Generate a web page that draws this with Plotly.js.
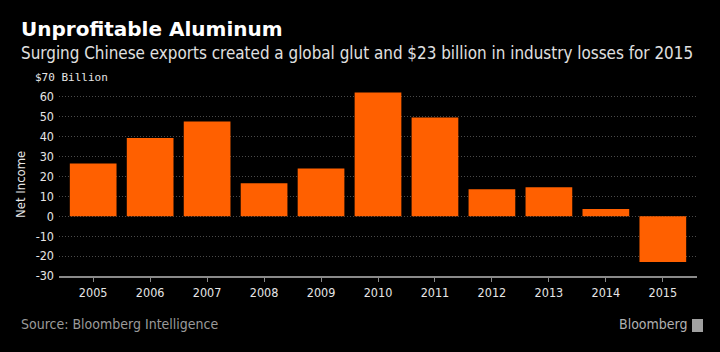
<!DOCTYPE html>
<html>
<head>
<meta charset="utf-8">
<script src="https://cdn.plot.ly/plotly-3.0.1.min.js"></script>
<style>html,body{margin:0;padding:0;background:#000;}#chart{width:720px;height:352px;}</style>
</head>
<body>
<div id="chart"></div>
<script>
const years = ["2005","2006","2007","2008","2009","2010","2011","2012","2013","2014","2015"];
const netIncome = [26.5, 39.3, 47.7, 16.6, 24.0, 62.2, 49.6, 13.6, 14.6, 3.7, -23.0];
const yTicks = [-30,-20,-10,0,10,20,30,40,50,60,70];
const yTickText = ["-30","-20","-10","0","10","20","30","40","50","60",""];

const trace = {
  type: "bar",
  x: years,
  y: netIncome,
  marker: {color: "#ff6000", line: {color: "#ff6000", width: 0}},
  hoverinfo: "skip"
};

const layout = {
  width: 720, height: 352,
  paper_bgcolor: "#000", plot_bgcolor: "#000",
  margin: {l: 58.5, r: 23, t: 77, b: 76},
  bargap: 0.18,
  showlegend: false,
  font: {family: "DejaVu Sans Condensed, DejaVu Sans, sans-serif", color: "#e6e6e6", size: 12},
  xaxis: {
    type: "category", range: [-0.6, 10.6], fixedrange: true,
    showline: true, linecolor: "#8a8a8a", linewidth: 1.5,
    ticks: "outside", ticklen: 4, tickcolor: "#8a8a8a",
    showgrid: false, zeroline: false,
    tickfont: {size: 12.5, color: "#e6e6e6"}
  },
  yaxis: {
    range: [-30, 70], fixedrange: true,
    tickvals: yTicks, ticktext: yTickText,
    showgrid: true, gridcolor: "#4a4a4a", griddash: "1px,2px", gridwidth: 1,
    zeroline: false, showline: false, ticks: "",
    ticklabelstandoff: 4,
    tickfont: {size: 12.5, color: "#e6e6e6"}
  },
  annotations: [
    {text: "<b>Unprofitable Aluminum</b>", xref: "paper", yref: "paper", x: 0, xshift: -58.5 + 20 - 2, y: 1, yshift: 34,
     xanchor: "left", yanchor: "bottom", showarrow: false,
     font: {family: "DejaVu Sans", size: 20, color: "#ffffff"}},
    {text: "Surging Chinese exports created a global glut and $23 billion in industry losses for 2015", xref: "paper", yref: "paper",
     x: 0, xshift: -58.5 + 20 - 2, y: 1, yshift: 11.5,
     xanchor: "left", yanchor: "bottom", showarrow: false,
     font: {family: "DejaVu Sans Condensed", size: 16.9, color: "#e0e0e0"}},
    {text: "$70 Billion", xref: "paper", yref: "y", x: 0, xshift: -58.5 + 32, y: 70,
     xanchor: "left", yanchor: "middle", showarrow: false, bgcolor: "#000", borderpad: 1,
     font: {family: "DejaVu Sans Mono", size: 11, color: "#e6e6e6"}},
    {text: "Net Income", xref: "paper", yref: "paper", x: 0, xshift: -58.5 + 20, y: 0.46,
     textangle: -90, xanchor: "center", yanchor: "middle", showarrow: false,
     font: {family: "DejaVu Sans Condensed", size: 13, color: "#e6e6e6"}},
    {text: "Source: Bloomberg Intelligence", xref: "paper", yref: "paper", x: 0, xshift: -58.5 + 18, y: 0, yshift: -76 + 352 - 330 - 4,
     xanchor: "left", yanchor: "bottom", showarrow: false,
     font: {family: "DejaVu Sans Condensed", size: 14, color: "#9a9a9a"}},
    {text: "Bloomberg", xref: "paper", yref: "paper", x: 1, xshift: 23 - 720 + 690, y: 0, yshift: -76 + 352 - 330 - 4,
     xanchor: "right", yanchor: "bottom", showarrow: false,
     font: {family: "DejaVu Sans Condensed", size: 14, color: "#b0b0b0"}}
  ],
  shapes: [
    {type: "rect", xref: "paper", yref: "paper",
     x0: 1 + (692 - 697) / 638.5, x1: 1 + (703 - 697) / 638.5,
     y0: -(319 - 276) / 199, y1: -(332 - 276) / 199,
     fillcolor: "#a0a0a0", line: {width: 0}}
  ]
};

Plotly.newPlot("chart", [trace], layout, {displayModeBar: false, staticPlot: true});
</script>
</body>
</html>
